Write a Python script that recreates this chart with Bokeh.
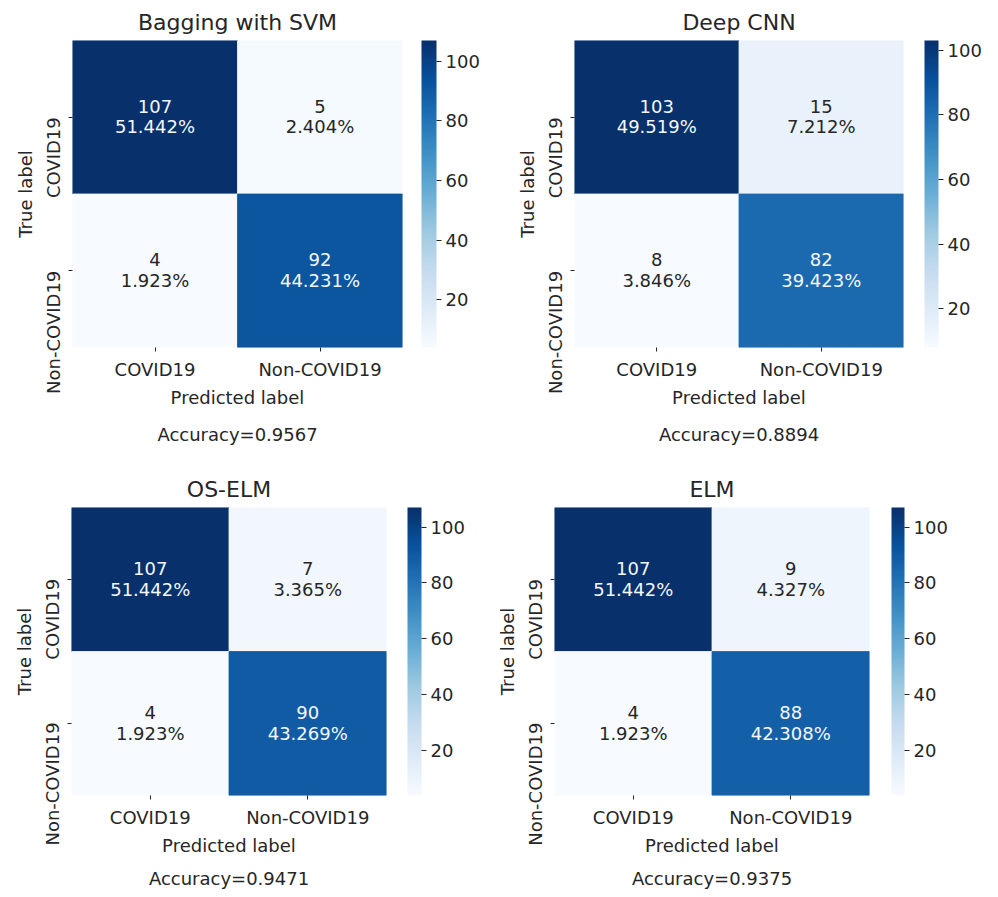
import numpy as np
from bokeh.plotting import figure
from bokeh.models import (LinearAxis, FixedTicker, ColorBar, LinearColorMapper,
                          Title, ColumnDataSource, Range1d)
from bokeh.layouts import row, column
from bokeh.embed import file_html
from bokeh.resources import INLINE
from bokeh.core.properties import value
from bokeh.palettes import Blues9

# ---------------- data ----------------
classes = ["COVID19", "Non-COVID19"]
titles = ["Bagging with SVM", "Deep CNN", "OS-ELM", "ELM"]
bagging_svm = [[107, 5], [4, 92]]
deep_cnn = [[103, 15], [8, 82]]
os_elm = [[107, 7], [4, 90]]
elm = [[107, 9], [4, 88]]
matrices = [bagging_svm, deep_cnn, os_elm, elm]
cbar_ticks = [20, 40, 60, 80, 100]

# ---------------- style / layout ----------------
FONT = "DejaVu Sans"
TXT = "#262626"
specs = [
    dict(W=500, H=460, L=72, T=40, FW=330, FH=308, G=19, CW=15, acc_standoff=23),
    dict(W=498, H=460, L=74, T=40, FW=329, FH=307, G=21, CW=14, acc_standoff=23),
    dict(W=490, H=436, L=71, T=46, FW=315, FH=294, G=21, CW=14, acc_standoff=15),
    dict(W=508, H=436, L=64, T=47, FW=315, FH=293, G=22, CW=13, acc_standoff=15),
]

# matplotlib "Blues" = linear interpolation of the 9 brewer colours
anchors = [tuple(int(c[i:i + 2], 16) for i in (1, 3, 5)) for c in Blues9[::-1]]
anchors = np.array(anchors, dtype=float)
pos = np.linspace(0, 1, len(anchors))
tt = np.linspace(0, 1, 256)
blues = ["#%02x%02x%02x" % tuple(int(round(np.interp(t, pos, anchors[:, k]))) for k in range(3)) for t in tt]

# DejaVu Sans advance widths (em) for tick-label length estimate
ADV = {"C": .698, "O": .787, "V": .684, "I": .295, "D": .770, "1": .636, "9": .636,
       "N": .748, "o": .612, "n": .634, "-": .361}


def text_w(s, size=18):
    return sum(ADV.get(ch, .6) for ch in s) * size


def make_panel(title, cm, s):
    W, H, L, T, FW, FH = s["W"], s["H"], s["L"], s["T"], s["FW"], s["FH"]
    p = figure(width=W, height=H, x_range=Range1d(0, 2), y_range=Range1d(0, 2),
               output_backend="svg", toolbar_location=None,
               x_axis_location=None, y_axis_location=None,
               min_border_left=L, min_border_right=W - L - FW,
               min_border_top=T, min_border_bottom=H - T - FH)
    p.outline_line_color = None
    p.grid.visible = False
    p.background_fill_color = "white"
    p.border_fill_color = "white"

    vals = np.array(cm)
    total = vals.sum()
    lo, hi = vals.min(), vals.max()
    mapper = LinearColorMapper(palette=blues, low=lo, high=hi)

    xs, ys, vs, t1, t2, tc = [], [], [], [], [], []
    for i in range(2):
        for j in range(2):
            v = int(vals[i, j])
            xs.append(j + 0.5)
            ys.append(1.5 - i)
            vs.append(v)
            t1.append(str(v))
            t2.append(f"{v / total * 100:.3f}%")
            tc.append("#f4f8fc" if (v - lo) / (hi - lo) > 0.5 else TXT)
    src = ColumnDataSource(dict(x=xs, y=ys, v=vs, t1=t1, t2=t2, tc=tc,
                                l=[x - 0.5 for x in xs], r=[x + 0.5 for x in xs],
                                b=[y - 0.5 for y in ys], t=[y + 0.5 for y in ys]))
    cmap = {"field": "v", "transform": mapper}
    p.quad(left="l", right="r", bottom="b", top="t", source=src,
           fill_color=cmap, line_color=cmap, line_width=0.8)
    for col, off in (("t1", -11), ("t2", 9.5)):
        p.text(x="x", y="y", text=col, source=src, y_offset=off,
               text_align="center", text_baseline="middle",
               text_font=value(FONT), text_font_size="18px", text_color="tc")

    # title
    p.title.text = title
    p.title.align = "center"
    p.title.text_font = FONT
    p.title.text_font_size = "22px"
    p.title.text_font_style = "normal"
    p.title.text_color = TXT
    p.title.standoff = 12

    # x axis
    ax = LinearAxis(ticker=FixedTicker(ticks=[0.5, 1.5]),
                    major_label_overrides={0.5: classes[0], 1.5: classes[1]},
                    major_tick_out=4, major_tick_in=0, major_tick_line_color=TXT,
                    minor_tick_line_color=None, axis_line_color=None,
                    major_label_standoff=7,
                    major_label_text_font=FONT, major_label_text_font_size="18px",
                    major_label_text_color=TXT,
                    axis_label="Predicted label", axis_label_standoff=4,
                    axis_label_text_font=FONT, axis_label_text_font_size="18px",
                    axis_label_text_font_style="normal", axis_label_text_color=TXT)
    p.add_layout(ax, "below")

    # y axis: tick marks at row centres
    ay1 = LinearAxis(ticker=FixedTicker(ticks=[0.5, 1.5]),
                     major_label_overrides={0.5: "", 1.5: ""},
                     major_label_text_font_size="0px", major_label_standoff=0,
                     major_tick_out=4, major_tick_in=0, major_tick_line_color=TXT,
                     minor_tick_line_color=None, axis_line_color=None)
    p.add_layout(ay1, "left")
    # y axis: labels whose upper end sits at the tick
    lab_pos = []
    for i, name in enumerate(classes):
        yc = 1.5 - i
        lab_pos.append(round(yc - (text_w(name) / 2) / (FH / 2), 5))
    ay2 = LinearAxis(ticker=FixedTicker(ticks=lab_pos),
                     major_label_overrides={lab_pos[0]: classes[0], lab_pos[1]: classes[1]},
                     major_label_orientation="vertical",
                     major_tick_out=0, major_tick_in=0, major_tick_line_color=None,
                     minor_tick_line_color=None, axis_line_color=None,
                     major_label_standoff=4,
                     major_label_text_font=FONT, major_label_text_font_size="18px",
                     major_label_text_color=TXT,
                     axis_label="True label", axis_label_standoff=5,
                     axis_label_text_font=FONT, axis_label_text_font_size="18px",
                     axis_label_text_font_style="normal", axis_label_text_color=TXT)
    p.add_layout(ay2, "left")

    # colour bar
    cb = ColorBar(color_mapper=mapper, ticker=FixedTicker(ticks=cbar_ticks),
                  width=s["CW"], padding=0, location=(s["G"], 0),
                  major_tick_out=5, major_tick_in=0, major_tick_line_color=TXT,
                  minor_tick_line_color=None, label_standoff=4,
                  major_label_text_font=FONT, major_label_text_font_size="18px",
                  major_label_text_color=TXT,
                  bar_line_color=None, border_line_color=None,
                  background_fill_color=None)
    p.add_layout(cb, "right")

    # accuracy below
    acc = (vals[0, 0] + vals[1, 1]) / total
    at = Title(text=f"Accuracy={acc:.4f}", align="center", text_font=FONT,
               text_font_size="18px", text_font_style="normal", text_color=TXT,
               standoff=s["acc_standoff"])
    p.add_layout(at, "below")
    return p


panels = [make_panel(t, m, s) for t, m, s in zip(titles, matrices, specs)]
layout = column(row(panels[0], panels[1]), row(panels[2], panels[3]))

with open("out.html", "w") as f:
    f.write(file_html(layout, INLINE))
